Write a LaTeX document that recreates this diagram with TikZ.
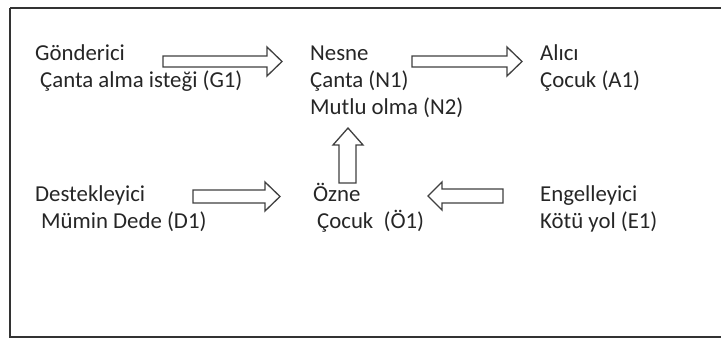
\documentclass[tikz,border=0pt]{standalone}
\usepackage{fontspec}
\setmainfont{Carlito}
\begin{document}
\begin{tikzpicture}[x=1pt,y=-1pt,
  lbl/.style={anchor=base west,inner sep=0pt,font=\fontsize{22.8}{27}\selectfont,text=black!85},
  blockarrow/.style={draw=black!75,line width=1.3pt,fill=white,line join=miter}]
\useasboundingbox (0,0) rectangle (721,338);
\fill[white] (0,0) rectangle (721,338);
\draw[black!80,line width=1.8pt] (10,8) -- (730,8) (10,8) -- (10,337) -- (730,337);
% texts
\node[lbl] (g0) at (35,60) {Gönderici};
\node[lbl] (g1) at (40,87) {Çanta alma isteği (G1)};
\node[lbl] (n0) at (310,60) {Nesne};
\node[lbl] (n1) at (310,87) {Çanta (N1)};
\node[lbl] (n2) at (310,114) {Mutlu olma (N2)};
\node[lbl] (a0) at (540,60) {Alıcı};
\node[lbl] (a1) at (540,87) {Çocuk (A1)};
\node[lbl] (d0) at (35,201) {Destekleyici};
\node[lbl] (d1) at (41,228) {Mümin Dede (D1)};
\node[lbl] (o0) at (313,201) {Özne};
\node[lbl] (o1) at (317,228) {Çocuk~ (Ö1)};
\node[lbl] (e0) at (540,201) {Engelleyici};
\node[lbl] (e1) at (540,228) {Kötü yol (E1)};
% block arrows
\draw[blockarrow] (163,56) -- (267,56) -- (267,47) -- (282,61.5) -- (267,76) -- (267,67) -- (163,67) -- cycle;
\draw[blockarrow] (412,56) -- (507,56) -- (507,47) -- (522,61.5) -- (507,76) -- (507,67) -- (412,67) -- cycle;
\draw[blockarrow] (193,190) -- (265,190) -- (265,182) -- (280,196.5) -- (265,211) -- (265,203) -- (193,203) -- cycle;
\draw[blockarrow] (503,189) -- (442,189) -- (442,182) -- (428,196) -- (442,210) -- (442,203) -- (503,203) -- cycle;
\draw[blockarrow] (339,183) -- (339,145) -- (333,145) -- (348,128) -- (363,145) -- (356,145) -- (356,183) -- cycle;
\end{tikzpicture}
\end{document}
